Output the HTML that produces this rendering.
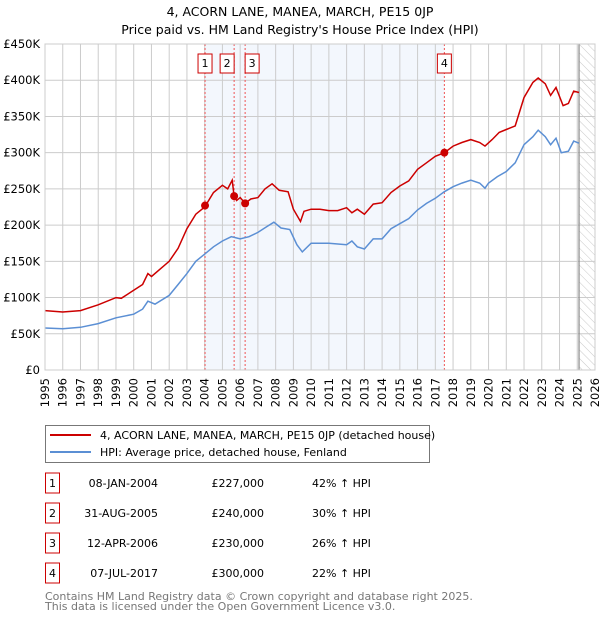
<!DOCTYPE html>
<html><head><meta charset="utf-8">
<style>
body{margin:0;background:#fff;font-family:"DejaVu Sans","Liberation Sans",sans-serif;}
svg{display:block}
</style></head>
<body>
<svg id="chart" width="600" height="620" xmlns="http://www.w3.org/2000/svg" font-family="DejaVu Sans, Liberation Sans, sans-serif">
<defs>
<pattern id="hatch" width="6" height="6" patternUnits="userSpaceOnUse" patternTransform="rotate(-45)">
<line x1="0" y1="0" x2="0" y2="6" stroke="#bbb" stroke-width="0.8"/>
</pattern>
</defs>
<text x="300" y="16" text-anchor="middle" font-size="12.5" fill="#000">4, ACORN LANE, MANEA, MARCH, PE15 0JP</text>
<text x="300" y="34" text-anchor="middle" font-size="12.5" fill="#000">Price paid vs. HM Land Registry's House Price Index (HPI)</text>
<g id="plot"></g>
<g>
<rect x="45.5" y="425.5" width="384" height="37" fill="#fff" stroke="#777"/>
<line x1="50" y1="435" x2="91" y2="435" stroke="#cc0000" stroke-width="2"/>
<text x="100" y="439" font-size="11">4, ACORN LANE, MANEA, MARCH, PE15 0JP (detached house)</text>
<line x1="50" y1="452" x2="91" y2="452" stroke="#5b8fd4" stroke-width="2"/>
<text x="100" y="456" font-size="11">HPI: Average price, detached house, Fenland</text>
</g>
<g id="table" font-size="11"></g>
<text x="45" y="600" font-size="11" fill="#777">Contains HM Land Registry data © Crown copyright and database right 2025.</text>
<text x="45" y="610" font-size="11" fill="#777">This data is licensed under the Open Government Licence v3.0.</text>
</svg>
<script>
const hpiYears=[1995,1996,1997,1998,1999,2000,2000.5,2000.8,2001.2,2002,2002.5,2003,2003.5,2004,2004.5,2005,2005.5,2006,2006.5,2007,2007.5,2007.9,2008.3,2008.8,2009.2,2009.5,2010,2011,2012,2012.3,2012.6,2013,2013.5,2014,2014.5,2015,2015.5,2016,2016.5,2017,2017.5,2018,2018.5,2019,2019.5,2019.8,2020,2020.5,2021,2021.5,2022,2022.5,2022.8,2023.2,2023.5,2023.8,2024.1,2024.5,2024.8,2025.1];
const hpiValues=[58,57,59,64,72,77,84,95,91,103,118,133,150,160,170,178,184,181,184,190,198,204,196,194,173,163,175,175,173,178,170,167,181,181,195,202,209,221,230,237,246,253,258,262,258,251,258,267,274,286,311,322,331,322,311,320,300,302,316,313];
const redYears=[1995,1996,1997,1998,1999,1999.3,2000,2000.5,2000.8,2001,2002,2002.5,2003,2003.5,2004,2004.5,2005,2005.3,2005.55,2005.66,2005.8,2006,2006.28,2006.6,2007,2007.4,2007.8,2008.2,2008.7,2009,2009.4,2009.6,2010,2010.5,2011,2011.5,2012,2012.3,2012.6,2013,2013.5,2014,2014.5,2015,2015.5,2016,2016.5,2017,2017.51,2018,2018.5,2019,2019.5,2019.8,2020.2,2020.6,2021,2021.5,2022,2022.5,2022.8,2023.2,2023.5,2023.8,2024.2,2024.5,2024.8,2025.1];
const redValues=[82,80,82,90,100,99,110,118,133,129,150,168,195,215,225,245,255,250,262,240,234,238,230,236,238,250,257,248,246,222,205,219,222,222,220,220,224,217,222,215,229,231,245,254,261,277,286,295,300,309,314,318,314,309,318,328,332,337,376,397,403,395,379,390,365,368,385,383];
const saleLabels=["1","2","3","4"];
const saleYears=[2004.02,2005.66,2006.28,2017.51];
const saleValues=[227,240,230,300];
const saleDates=["08-JAN-2004","31-AUG-2005","12-APR-2006","07-JUL-2017"];
const salePrices=["£227,000","£240,000","£230,000","£300,000"];
const saleHpi=["42% ↑ HPI","30% ↑ HPI","26% ↑ HPI","22% ↑ HPI"];
const yTicks=[0,50,100,150,200,250,300,350,400,450];
const yTickLabels=["£0","£50K","£100K","£150K","£200K","£250K","£300K","£350K","£400K","£450K"];
const xTicks=[1995,1996,1997,1998,1999,2000,2001,2002,2003,2004,2005,2006,2007,2008,2009,2010,2011,2012,2013,2014,2015,2016,2017,2018,2019,2020,2021,2022,2023,2024,2025,2026];

const L=45,R=595,T=44,B=370,X0=1995,X1=2026,YMAX=450;
const xs=v=>L+(v-X0)/(X1-X0)*(R-L);
const ys=v=>B-v/YMAX*(B-T);
const NS="http://www.w3.org/2000/svg";
const plot=document.getElementById('plot');
function mk(tag,attrs,parent){const e=document.createElementNS(NS,tag);for(const k in attrs)e.setAttribute(k,attrs[k]);(parent||plot).appendChild(e);return e;}

let e=mk('rect',{x:xs(saleYears[0]),y:T,width:xs(saleYears[3])-xs(saleYears[0]),height:B-T,fill:'#eef3fc',opacity:0.7});


e=mk('rect',{x:xs(2025.1),y:T,width:R-xs(2025.1),height:B-T,fill:'url(#hatch)'});



xTicks.forEach(t=>{
  let g=mk('line',{x1:xs(t),x2:xs(t),y1:T,y2:B,stroke:'#ccc','stroke-width':1});
  
  
  let tx=mk('text',{x:0,y:0,'font-size':11.5,'text-anchor':'end',transform:`translate(${xs(t)+4},${B+8}) rotate(-90)`});
  tx.textContent=t;
  
  
});
yTicks.forEach((t,i)=>{
  let g=mk('line',{x1:L,x2:R,y1:ys(t),y2:ys(t),stroke:'#ccc','stroke-width':1});
  
  
  let tx=mk('text',{x:L-5,y:ys(t)+4,'font-size':11.5,'text-anchor':'end'});
  tx.textContent=yTickLabels[i];
  
  
});
e=mk('line',{x1:xs(2025.1),x2:xs(2025.1),y1:T,y2:B,stroke:'#888','stroke-width':1.2});



saleYears.forEach((y,i)=>{
  let l=mk('line',{x1:xs(y),x2:xs(y),y1:T,y2:B,stroke:'#e55','stroke-width':1,'stroke-dasharray':'2,2'});
  
  
  let bx=xs(y)-(i==1?7:(i==2?-7:0));
  let w=14;
  let r=mk('rect',{x:bx-w/2,y:54,width:w,height:19,fill:'#fff',stroke:'#cc0000'});
  
  
  let t=mk('text',{x:bx,y:67,'font-size':11,'text-anchor':'middle'});
  t.textContent=saleLabels[i];
  
  
});

function path(xa,va){return xa.map((x,i)=>(i?'L':'M')+xs(x).toFixed(1)+','+ys(va[i]).toFixed(1)).join('');}
e=mk('path',{d:path(hpiYears,hpiValues),fill:'none',stroke:'#5b8fd4','stroke-width':1.5});


e=mk('path',{d:path(redYears,redValues),fill:'none',stroke:'#cc0000','stroke-width':1.5});


saleYears.forEach((y,i)=>{
  let c=mk('circle',{cx:xs(y),cy:ys(saleValues[i]),r:4,fill:'#cc0000'});
  
  
});
e=mk('rect',{x:L,y:T,width:R-L,height:B-T,fill:'none',stroke:'#ccc'});



const table=document.getElementById('table');
const rowY=[483,513,543,573];
saleLabels.forEach((s,i)=>{
  let y=rowY[i];
  let r=mk('rect',{x:45.5,y:y-10,width:14,height:20,fill:'#fff',stroke:'#cc0000'},table);
  
  
  let t=mk('text',{x:52.5,y:y+4,'text-anchor':'middle'},table);t.textContent=s;
  
  
  t=mk('text',{x:158,y:y+4,'text-anchor':'end'},table);t.textContent=saleDates[i];
  
  
  t=mk('text',{x:264,y:y+4,'text-anchor':'end'},table);t.textContent=salePrices[i];
  
  
  t=mk('text',{x:312,y:y+4},table);t.textContent=saleHpi[i];
  
  
});
</script>
</body></html>
